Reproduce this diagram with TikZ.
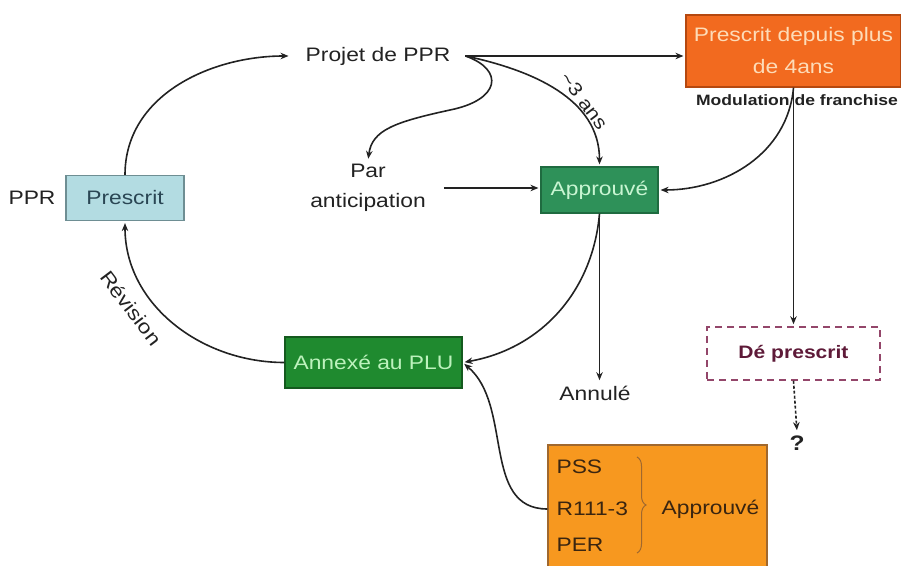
\documentclass[tikz,border=0pt]{standalone}
\usepackage{fontspec}
\setmainfont{Liberation Sans}[FakeStretch=1.17]
\usetikzlibrary{arrows.meta,decorations.pathreplacing}
\definecolor{prescritfill}{HTML}{B3DCE2}
\definecolor{prescritline}{HTML}{6E8E93}
\definecolor{prescrittext}{HTML}{2A4654}
\definecolor{depuisfill}{HTML}{F26A1F}
\definecolor{depuisline}{HTML}{B5480F}
\definecolor{depuistext}{HTML}{FDDCB8}
\definecolor{approuvefill}{HTML}{2E9159}
\definecolor{approuveline}{HTML}{1F6B40}
\definecolor{approuvetext}{HTML}{C8F5D2}
\definecolor{annexefill}{HTML}{1F8A2F}
\definecolor{annexeline}{HTML}{145A1E}
\definecolor{annexetext}{HTML}{BDF2BD}
\definecolor{deline}{HTML}{93466A}
\definecolor{detext}{HTML}{5E1A38}
\definecolor{listefill}{HTML}{F7981F}
\definecolor{listeline}{HTML}{A0682E}
\definecolor{listetext}{HTML}{3A2510}
\definecolor{inkgray}{HTML}{222222}

\begin{document}
\begin{tikzpicture}[
    x=1pt, y=1pt,
    font=\fontsize{19.5}{23}\selectfont,
    text=inkgray,
    box/.style={draw,line width=1.2pt,inner sep=0pt,minimum height=45pt},
    flow/.style={draw=inkgray,line width=1.6pt,shorten >=2pt,-{Stealth[length=8pt,width=6.5pt]}},
    ]
    \useasboundingbox (0,0) rectangle (901,565);
    \node (ppr) at (32,367) {PPR};
    \node[box,fill=prescritfill,draw=prescritline,text=prescrittext,minimum width=118pt] (prescrit) at (125,367) {Prescrit};
    \node[inner xsep=15pt] (projet) at (378,509) {Projet de PPR};
    \node[box,fill=depuisfill,draw=depuisline,text=depuistext,minimum width=215pt,minimum height=72pt,align=center] (depuis) at (793.5,514) {Prescrit depuis plus\\[9pt]de 4ans};
    \node[font=\fontsize{15}{17}\selectfont\bfseries] (modul) at (797,465) {Modulation de franchise};
    \node[align=center,inner xsep=18pt,font=\fontsize{19.5}{30}\selectfont] (par) at (368,377) {Par\\anticipation};
    \node[box,fill=approuvefill,draw=approuveline,text=approuvetext,minimum width=117pt,minimum height=46pt] (approuve) at (599.5,375) {Approuvé};
    \node[box,fill=annexefill,draw=annexeline,text=annexetext,minimum width=177pt,minimum height=51pt] (annexe) at (373.5,202.5) {Annexé au PLU};
    \node (annule) at (595,172) {Annulé};
    \node[draw=deline,line width=1.5pt,dash pattern=on 7pt off 5pt,minimum width=173pt,minimum height=53pt,text=detext,font=\fontsize{18}{21}\selectfont\bfseries] (deprescrit) at (793.5,211.5) {Dé prescrit};
    \node[font=\fontsize{21}{24}\selectfont\bfseries] (question) at (797,122) {?};
    \node[draw=listeline,fill=listefill,line width=1.2pt,minimum width=219pt,minimum height=125pt] (liste) at (657.5,57.5) {};
    \node[anchor=west,text=listetext] (pss) at (553,98) {PSS};
    \node[anchor=west,text=listetext] (r111) at (553,56) {R111-3};
    \node[anchor=west,text=listetext] (per) at (553,20) {PER};
    \node[text=listetext] (listeappr) at (710.5,56) {Approuvé};
    \draw[decorate,decoration={brace,amplitude=9pt},draw=listeline,line width=1pt] (637,108) -- (637,12);
    \draw[flow] (prescrit.north) to[out=90,in=180] (projet.west);
    \draw[flow] (projet.east) -- (projet.east -| depuis.west);
    \draw[flow] (projet.east) .. controls (505,495) and (500,465) .. (450,455)
        .. controls (395,443) and (372,435) .. (par.north);
    \draw[flow] (projet.east) to[out=-12,in=90] (approuve.north);
    \node[rotate=-53,font=\fontsize{18.5}{21}\selectfont] (troisans) at (584,464) {\textasciitilde3 ans};
    \draw[flow] (par.east) -- (par.east -| approuve.west);
    \draw[flow] (depuis.south) -- (deprescrit.north);
    \draw[flow] (depuis.south) to[out=-95,in=0] (approuve.east);
    \draw[flow] (approuve.south) -- (approuve.south |- annule.north);
    \draw[flow] (approuve.south) to[out=-95,in=10] (annexe.east);
    \draw[flow] (liste.west |- r111) to[out=180,in=-40] (annexe.east);
    \draw[flow] (annexe.west) to[out=180,in=-90] (prescrit.south);
    \node[rotate=-53] (revision) at (131,257) {Révision};
    \draw[flow,dash pattern=on 3pt off 2pt] (deprescrit.south) -- (question.north);
\end{tikzpicture}
\end{document}
